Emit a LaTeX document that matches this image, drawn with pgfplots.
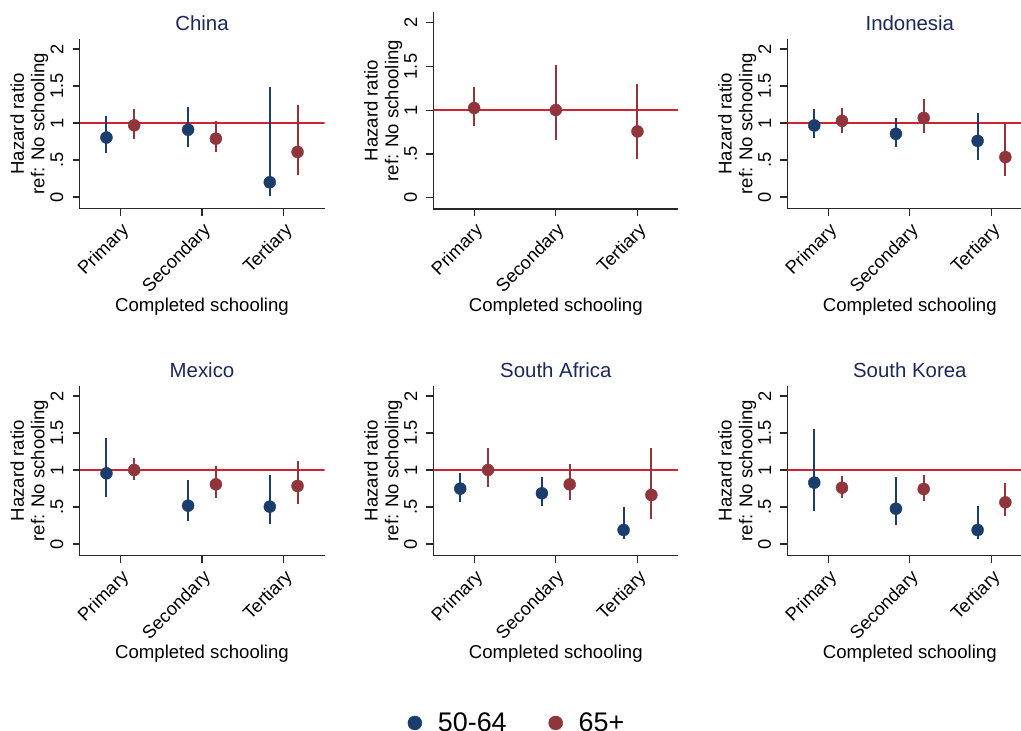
\documentclass[border=0pt]{standalone}
\usepackage{fontspec}
\setmainfont{Liberation Sans}
\usepackage{pgfplots}
\usepackage{pgfplotstable}
\pgfplotsset{compat=1.18}
\definecolor{s2navy}{RGB}{26,61,110}
\definecolor{s2maroon}{RGB}{144,53,59}
\definecolor{refred}{RGB}{205,35,50}
\definecolor{ttl}{RGB}{28,40,90}
\definecolor{axgray}{RGB}{40,40,40}

% columns: x (category position with offset), y (hazard ratio), lo, hi (95% CI)
\pgfplotstableread{
x y lo hi
0.83 0.805 0.59 1.09
1.83 0.91 0.68 1.22
2.83 0.20 0.02 1.49
}\ChinaA
\pgfplotstableread{
x y lo hi
1.17 0.97 0.79 1.19
2.17 0.79 0.61 1.03
3.17 0.61 0.30 1.24
}\ChinaB
\pgfplotstableread{
x y lo hi
1 1.025 0.822 1.27
2 1.002 0.662 1.518
3 0.757 0.44 1.296
}\NoTitleB
\pgfplotstableread{
x y lo hi
0.83 0.968 0.80 1.19
1.83 0.855 0.68 1.07
2.83 0.76 0.50 1.14
}\IndoA
\pgfplotstableread{
x y lo hi
1.17 1.03 0.87 1.20
2.17 1.07 0.87 1.32
3.17 0.54 0.29 0.99
}\IndoB
\pgfplotstableread{
x y lo hi
0.83 0.955 0.64 1.437
1.83 0.518 0.31 0.865
2.83 0.505 0.275 0.93
}\MexA
\pgfplotstableread{
x y lo hi
1.17 1.0 0.86 1.16
2.17 0.806 0.626 1.054
3.17 0.784 0.54 1.12
}\MexB
\pgfplotstableread{
x y lo hi
0.83 0.748 0.568 0.964
1.83 0.685 0.518 0.91
2.83 0.189 0.068 0.505
}\SAA
\pgfplotstableread{
x y lo hi
1.17 1.0 0.766 1.293
2.17 0.806 0.60 1.086
3.17 0.662 0.338 1.293
}\SAB
\pgfplotstableread{
x y lo hi
0.83 0.829 0.446 1.55
1.83 0.477 0.252 0.905
2.83 0.189 0.068 0.514
}\SKA
\pgfplotstableread{
x y lo hi
1.17 0.761 0.626 0.919
2.17 0.743 0.581 0.932
3.17 0.563 0.383 0.82
}\SKB

\pgfplotsset{
  panel/.style={
    scale only axis, width=245bp, height=170bp,
    xmin=0.5, xmax=3.5, ymin=-0.158, ymax=2.139,
    axis x line*=bottom, axis y line*=left,
    axis line style={line width=1.2bp, axgray},
    xtick={1,2,3}, xticklabels={Primary,Secondary,Tertiary},
    ytick={0,0.5,1,1.5,2}, yticklabels={0,.5,1,1.5,2},
    tick align=outside, major tick length=7bp,
    tick style={line width=1.2bp, axgray},
    /pgf/number format/assume math mode=true,
    ticklabel style={font=\fontsize{18.3bp}{20bp}\selectfont},
    yticklabel style={rotate=90, anchor=south, inner sep=0pt},
    yticklabel shift=9bp,
    xticklabel style={rotate=45, anchor=north east, inner sep=2bp},
    xticklabel shift=3bp,
    ylabel={Hazard ratio\\ref: No schooling},
    xlabel={Completed schooling},
    every axis y label/.style={at={(axis description cs:-0.1265,0.5)}, rotate=90, anchor=south, inner sep=0pt, align=center, font=\fontsize{18.6bp}{20.6bp}\selectfont},
    every axis x label/.style={at={(axis description cs:0.5,0)}, anchor=base, yshift=-103bp, inner sep=0pt, font=\fontsize{18.6bp}{20.6bp}\selectfont},
    every axis title/.style={at={(axis description cs:0.5,1)}, anchor=base, yshift=8bp, inner sep=0pt, font=\fontsize{20.4bp}{22bp}\selectfont, text=ttl},
  },
  refl/.style={refred, line width=2.5bp, forget plot},
  serA/.style={only marks, mark=*, mark size=6bp, color=s2navy, forget plot,
    error bars/.cd, y dir=both, y explicit, error mark=none, error bar style={line width=2bp, s2navy}},
  serB/.style={only marks, mark=*, mark size=6bp, color=s2maroon, forget plot,
    error bars/.cd, y dir=both, y explicit, error mark=none, error bar style={line width=2bp, s2maroon}},
  table/ci/.style={x=x, y=y, y error plus expr=\thisrow{hi}-\thisrow{y}, y error minus expr=\thisrow{y}-\thisrow{lo}},
}

\begin{document}
\begin{tikzpicture}[x=1bp,y=1bp]
% ---- top row ----
\begin{axis}[panel, at={(79.5bp,522.2bp)}, anchor=south west, title={China}]
  \addplot[refl] coordinates {(0.5,1) (3.5,1)};
  \addplot[serA] table[ci] {\ChinaA};
  \addplot[serB] table[ci] {\ChinaB};
\end{axis}
\begin{axis}[panel, at={(433.3bp,522bp)}, anchor=south west, height=196.5bp, ymin=-0.13, ymax=2.118]
  \addplot[refl] coordinates {(0.5,1) (3.5,1)};
  \addplot[serB] table[ci] {\NoTitleB};
\end{axis}
\begin{axis}[panel, at={(787.3bp,522.2bp)}, anchor=south west, title={Indonesia}]
  \addplot[refl] coordinates {(0.5,1) (3.5,1)};
  \addplot[serA] table[ci] {\IndoA};
  \addplot[serB] table[ci] {\IndoB};
\end{axis}
% ---- bottom row ----
\begin{axis}[panel, at={(79.5bp,175.3bp)}, anchor=south west, title={Mexico}]
  \addplot[refl] coordinates {(0.5,1) (3.5,1)};
  \addplot[serA] table[ci] {\MexA};
  \addplot[serB] table[ci] {\MexB};
\end{axis}
\begin{axis}[panel, at={(433.3bp,175.3bp)}, anchor=south west, title={South Africa},
  legend columns=2,
  legend style={at={(rel axis cs:0.342,-0.984)}, anchor=center, draw=none, fill=none,
    font=\fontsize{26.9bp}{28bp}\selectfont,
    /tikz/every odd column/.append style={column sep=14bp},
    /tikz/every even column/.append style={column sep=40bp}},
  legend image code/.code={\draw[#1] plot coordinates {(0bp,0bp)};}]
  \addplot[refl] coordinates {(0.5,1) (3.5,1)};
  \addplot[serA] table[ci] {\SAA};
  \addplot[serB] table[ci] {\SAB};
  \addlegendimage{only marks, mark=*, mark size=7bp, color=s2navy}
  \addlegendentry{50-64}
  \addlegendimage{only marks, mark=*, mark size=7bp, color=s2maroon}
  \addlegendentry{65+}
\end{axis}
\begin{axis}[panel, at={(787.3bp,175.3bp)}, anchor=south west, title={South Korea}]
  \addplot[refl] coordinates {(0.5,1) (3.5,1)};
  \addplot[serA] table[ci] {\SKA};
  \addplot[serB] table[ci] {\SKB};
\end{axis}
\pgfresetboundingbox
\path[use as bounding box] (0,0) rectangle (1021,731);
\end{tikzpicture}
\end{document}
